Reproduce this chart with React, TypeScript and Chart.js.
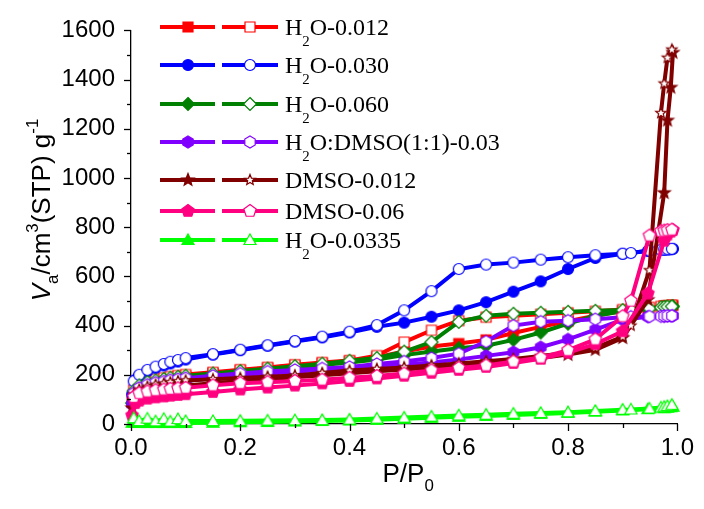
import React, { useEffect, useRef } from 'react';
import { Chart, registerables } from 'chart.js';
Chart.register(...registerables);

// Relative pressure grids (P/P0)
const P_ADS = [0.002, 0.008, 0.015, 0.03, 0.045, 0.06, 0.072, 0.086, 0.1, 0.15, 0.2, 0.25, 0.3, 0.35, 0.4, 0.45, 0.5, 0.55, 0.6, 0.65, 0.7, 0.75, 0.8, 0.85, 0.9, 0.946, 0.976, 0.982, 0.988, 0.992];
const P_DES = [0.005, 0.015, 0.03, 0.045, 0.06, 0.072, 0.086, 0.1, 0.15, 0.2, 0.25, 0.3, 0.35, 0.4, 0.45, 0.5, 0.55, 0.6, 0.65, 0.7, 0.75, 0.8, 0.85, 0.9, 0.915, 0.949, 0.97, 0.976, 0.982, 0.99];

// Adsorbed volume (cm3 STP / g)
const H2O_012_ADS = [90, 135, 150, 163, 172, 178, 184, 190, 195, 207, 218, 228, 238, 247, 256, 272, 295, 315, 327, 342, 370, 395, 418, 440, 460, 472, 478, 480, 481, 482];
const H2O_012_DES = [140, 162, 175, 182, 188, 193, 197, 201, 210, 221, 230, 241, 250, 258, 278, 333, 381, 420, 434, 440, 446, 452, 458, 465, 468, 474, 478, 480, 481, 483];
const H2O_030_ADS = [120, 180, 195, 215, 228, 238, 246, 254, 262, 282, 300, 318, 335, 352, 372, 395, 412, 436, 462, 495, 538, 580, 630, 675, 692, 703, 708, 709, 710, 712];
const H2O_030_DES = [174, 200, 220, 233, 244, 253, 260, 268, 284, 302, 320, 337, 355, 375, 402, 462, 540, 630, 648, 656, 668, 678, 686, 692, 695, 705, 708, 710, 711, 712];
const H2O_060_ADS = [85, 130, 145, 158, 166, 172, 178, 183, 188, 200, 211, 221, 231, 240, 250, 262, 280, 295, 308, 318, 342, 372, 408, 440, 458, 468, 474, 475, 476, 478];
const H2O_060_DES = [135, 157, 170, 177, 183, 188, 192, 196, 205, 215, 225, 235, 245, 257, 268, 294, 333, 415, 440, 448, 452, 456, 460, 463, 465, 470, 474, 476, 477, 478];
const MIX_003_ADS = [80, 122, 135, 148, 156, 162, 167, 172, 176, 186, 195, 204, 212, 220, 227, 234, 242, 250, 262, 277, 292, 312, 344, 384, 424, 436, 438, 439, 439, 440];
const MIX_003_DES = [125, 147, 160, 168, 173, 178, 182, 186, 196, 205, 213, 220, 226, 232, 244, 254, 268, 286, 335, 400, 416, 420, 426, 434, 436, 437, 438, 439, 440, 440];
const DMSO_012_ADS = [65, 100, 118, 130, 138, 144, 149, 153, 157, 166, 175, 183, 190, 198, 206, 214, 222, 230, 238, 247, 257, 268, 282, 302, 350, 505, 940, 1234, 1368, 1510];
const DMSO_012_DES = [120, 140, 152, 160, 165, 170, 174, 177, 182, 187, 192, 197, 207, 217, 224, 230, 238, 246, 255, 264, 276, 290, 310, 355, 400, 625, 1264, 1384, 1489, 1522];
const DMSO_06_ADS = [35, 85, 95, 103, 108, 112, 115, 118, 121, 130, 140, 148, 156, 165, 175, 185, 196, 208, 220, 232, 248, 265, 290, 325, 377, 530, 745, 770, 782, 788];
const DMSO_06_DES = [110, 125, 132, 137, 140, 143, 145, 147, 157, 166, 170, 175, 180, 188, 195, 205, 218, 228, 238, 254, 270, 300, 344, 438, 501, 766, 784, 786, 788, 790];
const H2O_0335_ADS = [5, 5, 4, 4, 4, 4, 4, 4, 4, 5, 7, 8, 10, 12, 14, 17, 21, 25, 29, 33, 37, 41, 45, 50, 55, 60, 64, 66, 68, 70];
const H2O_0335_DES = [24, 12, 22, 11, 21, 10, 20, 12, 12, 13, 14, 15, 16, 18, 22, 26, 30, 35, 38, 42, 45, 48, 53, 58, 59, 63, 67, 70, 73, 78];

type Part = { t: string; s?: 'sub' | 'sup'; i?: boolean };

const SERIES: { label: Part[]; color: string; shape: string; ads: number[]; des: number[] }[] = [
  { label: [{ t: 'H' }, { t: '2', s: 'sub' }, { t: 'O-0.012' }], color: '#FF0000', shape: 'square', ads: H2O_012_ADS, des: H2O_012_DES },
  { label: [{ t: 'H' }, { t: '2', s: 'sub' }, { t: 'O-0.030' }], color: '#0000FF', shape: 'circle', ads: H2O_030_ADS, des: H2O_030_DES },
  { label: [{ t: 'H' }, { t: '2', s: 'sub' }, { t: 'O-0.060' }], color: '#008000', shape: 'diamond', ads: H2O_060_ADS, des: H2O_060_DES },
  { label: [{ t: 'H' }, { t: '2', s: 'sub' }, { t: 'O:DMSO(1:1)-0.03' }], color: '#8000FF', shape: 'hexagon', ads: MIX_003_ADS, des: MIX_003_DES },
  { label: [{ t: 'DMSO-0.012' }], color: '#800000', shape: 'star', ads: DMSO_012_ADS, des: DMSO_012_DES },
  { label: [{ t: 'DMSO-0.06' }], color: '#FF0080', shape: 'pentagon', ads: DMSO_06_ADS, des: DMSO_06_DES },
  { label: [{ t: 'H' }, { t: '2', s: 'sub' }, { t: 'O-0.0335' }], color: '#00FF00', shape: 'triangle', ads: H2O_0335_ADS, des: H2O_0335_DES },
];

const LEGEND_ROWS = [27, 65, 104, 142, 180, 211, 240];
const X_TICK_STEP = 0.2;
const Y_TICK_STEP = 200;

function polygon(ctx: CanvasRenderingContext2D, x: number, y: number, r: number, n: number, inner?: number) {
  const pts = inner ? n * 2 : n;
  for (let k = 0; k < pts; k++) {
    const a = -Math.PI / 2 + (k * 2 * Math.PI) / pts;
    const rr = inner ? (k % 2 === 0 ? r : inner) : r;
    const px = x + rr * Math.cos(a);
    const py = y + rr * Math.sin(a);
    if (k === 0) ctx.moveTo(px, py);
    else ctx.lineTo(px, py);
  }
}

function drawMarker(ctx: CanvasRenderingContext2D, shape: string, x: number, y: number, color: string, filled: boolean) {
  ctx.save();
  ctx.beginPath();
  switch (shape) {
    case 'square':
      ctx.rect(x - 5, y - 5, 10, 10);
      break;
    case 'circle':
      ctx.arc(x, y, 5.5, 0, Math.PI * 2);
      break;
    case 'diamond':
      ctx.moveTo(x, y - 6.5);
      ctx.lineTo(x + 6.5, y);
      ctx.lineTo(x, y + 6.5);
      ctx.lineTo(x - 6.5, y);
      break;
    case 'hexagon':
      polygon(ctx, x, y, 6, 6);
      break;
    case 'star':
      polygon(ctx, x, y, filled ? 6.5 : 5.5, 5, filled ? 2.8 : 2.4);
      break;
    case 'pentagon':
      polygon(ctx, x, y, 6.5, 5);
      break;
    case 'triangle':
      polygon(ctx, x, y + 1, 7, 3);
      break;
  }
  ctx.closePath();
  ctx.fillStyle = filled ? color : '#FFFFFF';
  ctx.fill();
  ctx.lineWidth = 1.2;
  ctx.strokeStyle = color;
  ctx.stroke();
  ctx.restore();
}

function markerImage(shape: string, color: string, filled: boolean) {
  const c = document.createElement('canvas');
  c.width = 18;
  c.height = 18;
  const ctx = c.getContext('2d')!;
  drawMarker(ctx, shape, 9, 9, color, filled);
  return c;
}

function drawRich(ctx: CanvasRenderingContext2D, parts: Part[], x: number, y: number, size: number, family: string, subDrop: number, supRise: number, scale = 0.65) {
  let cx = x;
  for (const p of parts) {
    const fs = p.s ? size * scale : size;
    ctx.font = `${p.i ? 'italic ' : ''}${fs}px ${family}`;
    const dy = p.s === 'sub' ? size * subDrop : p.s === 'sup' ? -size * supRise : 0;
    ctx.fillText(p.t, cx, y + dy);
    cx += ctx.measureText(p.t).width;
  }
  return cx - x;
}

function richWidth(ctx: CanvasRenderingContext2D, parts: Part[], size: number, family: string, scale = 0.65) {
  let w = 0;
  for (const p of parts) {
    const fs = p.s ? size * scale : size;
    ctx.font = `${p.i ? 'italic ' : ''}${fs}px ${family}`;
    w += ctx.measureText(p.t).width;
  }
  return w;
}

const SANS = '"Liberation Sans", Arial, sans-serif';
const SERIF = '"Liberation Serif", "Times New Roman", serif';

const decorPlugin = {
  id: 'decor',
  afterDraw(chart: any) {
    const ctx: CanvasRenderingContext2D = chart.ctx;
    const xs = chart.scales.x;
    const ys = chart.scales.y;
    const area = chart.chartArea;
    ctx.save();
    ctx.strokeStyle = '#000';
    ctx.lineWidth = 1.3;
    // x ticks (major + minor)
    for (let k = 0; k <= 10; k++) {
      const v = k / 10;
      const px = Math.round(xs.getPixelForValue(v)) + 0.5;
      const len = k % 2 === 0 ? 7 : 4;
      ctx.beginPath();
      ctx.moveTo(px, area.bottom);
      ctx.lineTo(px, area.bottom + len);
      ctx.stroke();
    }
    for (let k = 0; k <= 16; k++) {
      const v = k * 100;
      const py = Math.round(ys.getPixelForValue(v)) + 0.5;
      const len = k % 2 === 0 ? 7 : 4;
      ctx.beginPath();
      ctx.moveTo(area.left, py);
      ctx.lineTo(area.left - len, py);
      ctx.stroke();
    }
    // axis titles
    ctx.fillStyle = '#000';
    ctx.textBaseline = 'alphabetic';
    ctx.textAlign = 'left';
    const xt: Part[] = [{ t: 'P/P' }, { t: '0', s: 'sub' }];
    const xw = richWidth(ctx, xt, 26, SANS);
    drawRich(ctx, xt, (area.left + area.right) / 2 - xw / 2 + 4, 482, 26, SANS, 0.35, 0.4);

    const yt: Part[] = [{ t: 'V', i: true }, { t: 'a', s: 'sub' }, { t: '/cm' }, { t: '3', s: 'sup' }, { t: '(STP) g' }, { t: '-1', s: 'sup' }];
    const yw = richWidth(ctx, yt, 26, SANS);
    ctx.save();
    ctx.translate(50, 210);
    ctx.rotate(-Math.PI / 2);
    drawRich(ctx, yt, -yw / 2, 0, 26, SANS, 0.3, 0.45);
    ctx.restore();

    // legend
    SERIES.forEach((s, i) => {
      const y = LEGEND_ROWS[i];
      ctx.lineWidth = 4;
      ctx.strokeStyle = s.color;
      ctx.beginPath();
      ctx.moveTo(160, y);
      ctx.lineTo(215, y);
      ctx.moveTo(222, y);
      ctx.lineTo(278, y);
      ctx.stroke();
      drawMarker(ctx, s.shape, 188, y, s.color, true);
      drawMarker(ctx, s.shape, 250, y, s.color, false);
      ctx.fillStyle = '#000';
      drawRich(ctx, s.label, 285, y + 8, 24, SERIF, 0.45, 0.4, 0.62);
    });
    ctx.restore();
  },
};

export default function App() {
  const ref = useRef<HTMLCanvasElement>(null);
  useEffect(() => {
    const datasets: any[] = [];
    SERIES.forEach((s) => {
      datasets.push({
        data: P_ADS.map((p, k) => ({ x: p, y: s.ads[k] })),
        borderColor: s.color,
        backgroundColor: s.color,
        borderWidth: 4,
        pointStyle: markerImage(s.shape, s.color, true),
        pointRadius: 5,
        showLine: true,
        clip: false,
        order: -datasets.length,
      });
      datasets.push({
        data: P_DES.map((p, k) => ({ x: p, y: s.des[k] })),
        borderColor: s.color,
        backgroundColor: '#FFFFFF',
        borderWidth: 4,
        pointStyle: markerImage(s.shape, s.color, false),
        pointRadius: 5,
        showLine: true,
        clip: false,
        order: -datasets.length,
      });
    });
    const chart = new Chart(ref.current!, {
      type: 'scatter',
      data: { datasets },
      options: {
        animation: false,
        responsive: false,
        events: [],
        layout: { padding: { top: 27, right: 21, left: 0, bottom: 0 } },
        plugins: { legend: { display: false }, tooltip: { enabled: false } },
        scales: {
          x: {
            type: 'linear',
            min: 0,
            max: 1,
            afterFit: (sc: any) => { sc.height = 85; },
            grid: { display: false, drawTicks: false },
            border: { display: true, color: '#000', width: 1.3 },
            ticks: {
              stepSize: X_TICK_STEP,
              padding: 10,
              color: '#000',
              font: { family: SANS, size: 24 },
              callback: (v: any) => Number(v).toFixed(1),
            },
          },
          y: {
            type: 'linear',
            min: 0,
            max: 1600,
            afterFit: (sc: any) => { sc.width = 131; },
            grid: { display: false, drawTicks: false },
            border: { display: true, color: '#000', width: 1.3 },
            ticks: {
              stepSize: Y_TICK_STEP,
              padding: 16,
              color: '#000',
              font: { family: SANS, size: 24 },
              callback: (v: any) => String(Math.round(Number(v))),
            },
          },
        },
      },
      plugins: [decorPlugin],
    } as any);
    return () => chart.destroy();
  }, []);
  return (
    <div style={{ position: 'fixed', left: 0, top: 0, width: 704, height: 509, background: '#fff' }}>
      <canvas ref={ref} width={704} height={509} style={{ width: 704, height: 509, display: 'block' }} />
    </div>
  );
}
